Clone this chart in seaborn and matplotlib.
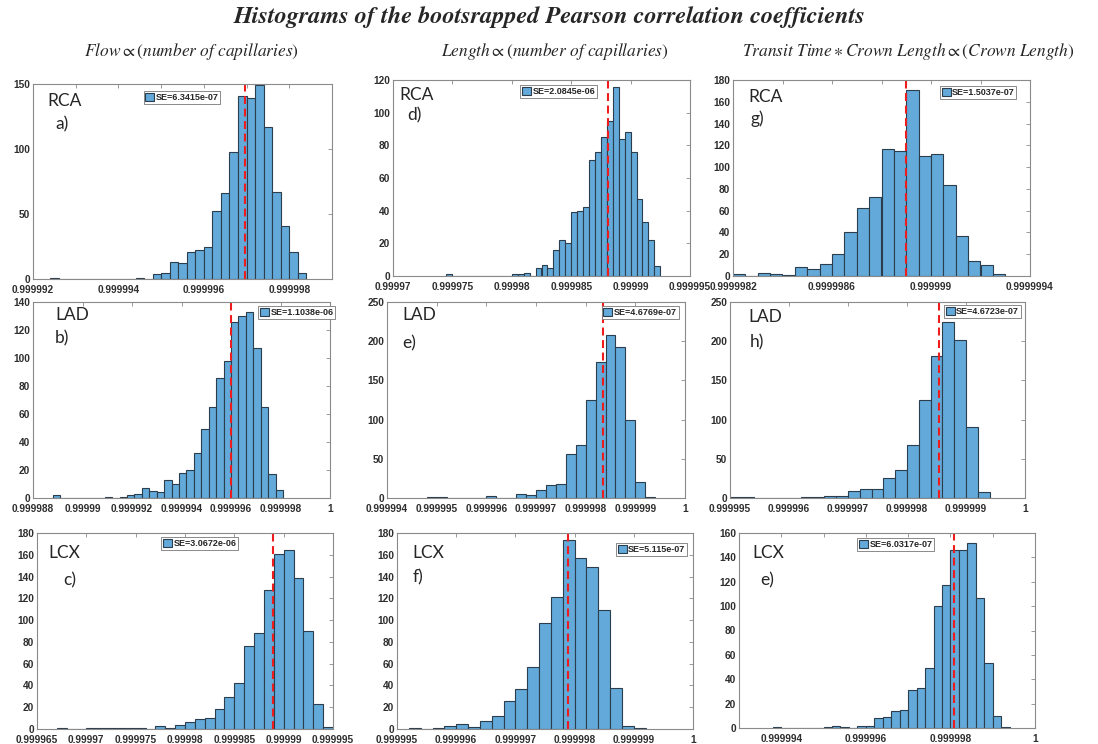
import numpy as np
import pandas as pd
import matplotlib
matplotlib.use('Agg')
import matplotlib.pyplot as plt
import seaborn as sns

sns.set_style('white')
plt.rcParams['mathtext.fontset'] = 'stix'
plt.rcParams['font.family'] = ['Liberation Sans', 'DejaVu Sans']

# ---- data: bin counts, first bin edge, bin width, mean, SE ----
# Flow (column 1)
flow_rca_counts = [1, 0, 0, 0, 0, 0, 0, 0, 0, 0, 1, 0, 4, 5, 13, 12, 21, 22, 25, 52,
                   66, 98, 141, 139, 149, 117, 67, 41, 21, 5]
flow_rca_edge0 = 0.9999924
flow_rca_width = 2e-7
flow_rca_mean = 0.99999697
flow_rca_se = 'SE=6.3415e-07'

flow_lad_counts = [2, 0, 0, 0, 0, 0, 0, 1, 0, 1, 2, 3, 7, 5, 4, 13, 10, 18, 20, 32,
                   49, 65, 86, 98, 126, 130, 133, 107, 65, 17, 6]
flow_lad_edge0 = 0.9999888
flow_lad_width = 3e-7
flow_lad_mean = 0.999996
flow_lad_se = 'SE=1.1038e-06'

flow_lcx_counts = [1, 0, 0, 1, 1, 1, 1, 1, 1, 0, 3, 1, 4, 6, 9, 10, 18, 29, 42, 76,
                   88, 128, 161, 164, 139, 90, 23, 2]
flow_lcx_edge0 = 0.999967
flow_lcx_width = 1e-6
flow_lcx_mean = 0.9999889
flow_lcx_se = 'SE=3.0672e-06'

# Length (column 2)
len_rca_counts = [1, 0, 0, 0, 0, 0, 0, 0, 0, 0, 0, 1, 1, 2, 0, 5, 7, 5, 16, 22, 20,
                  39, 40, 42, 71, 76, 85, 95, 116, 84, 88, 76, 47, 33, 22, 6]
len_rca_edge0 = 0.9999745
len_rca_width = 5e-7
len_rca_mean = 0.99998808
len_rca_se = 'SE=2.0845e-06'

len_lad_counts = [1, 1, 0, 0, 0, 0, 3, 0, 0, 5, 4, 10, 17, 18, 56, 68, 125, 174,
                  208, 193, 100, 20, 1]
len_lad_edge0 = 0.9999948
len_lad_width = 2e-7
len_lad_mean = 0.99999834
len_lad_se = 'SE=4.6769e-07'

len_lcx_counts = [1, 0, 1, 3, 5, 2, 7, 12, 26, 37, 57, 97, 121, 174, 157, 149, 109,
                  38, 3, 1]
len_lcx_edge0 = 0.9999952
len_lcx_width = 2e-7
len_lcx_mean = 0.99999789
len_lcx_se = 'SE=5.115e-07'

# Transit time (column 3)
tt_rca_counts = [2, 0, 3, 2, 1, 8, 6, 11, 20, 40, 62, 73, 117, 115, 171, 110, 112,
                 84, 37, 14, 10, 2]
tt_rca_edge0 = 0.9999982
tt_rca_width = 5e-8
tt_rca_mean = 0.9999989
tt_rca_se = 'SE=1.5037e-07'

tt_lad_counts = [1, 1, 0, 0, 0, 0, 1, 1, 3, 2, 9, 12, 11, 25, 36, 68, 125, 181, 224,
                 201, 90, 8]
tt_lad_edge0 = 0.999995
tt_lad_width = 2e-7
tt_lad_mean = 0.99999854
tt_lad_se = 'SE=4.6723e-07'

tt_lcx_counts = [1, 0, 0, 0, 0, 0, 1, 2, 1, 0, 2, 2, 8, 9, 14, 15, 31, 33, 49, 100,
                 117, 146, 146, 152, 107, 53, 10, 1]
tt_lcx_edge0 = 0.9999938
tt_lcx_width = 2e-7
tt_lcx_mean = 0.99999808
tt_lcx_se = 'SE=6.0317e-07'

# axis ticks
a_xticks = [0.999992, 0.999993, 0.999994, 0.999995, 0.999996, 0.999997, 0.999998, 0.999999]
a_xlabels = ['0.999992', '', '0.999994', '', '0.999996', '', '0.999998', '']
b_xticks = [0.999988, 0.99999, 0.999992, 0.999994, 0.999996, 0.999998, 1.0]
b_xlabels = ['0.999988', '0.99999', '0.999992', '0.999994', '0.999996', '0.999998', '1']
c_xticks = [0.999965, 0.99997, 0.999975, 0.99998, 0.999985, 0.99999, 0.999995]
c_xlabels = ['0.999965', '0.99997', '0.999975', '0.99998', '0.999985', '0.99999', '0.999995']
d_xticks = [0.99997, 0.999975, 0.99998, 0.999985, 0.99999, 0.999995]
d_xlabels = ['0.99997', '0.999975', '0.99998', '0.999985', '0.99999', '0.999995']
e_xticks = [0.999994, 0.999995, 0.999996, 0.999997, 0.999998, 0.999999, 1.0]
e_xlabels = ['0.999994', '0.999995', '0.999996', '0.999997', '0.999998', '0.999999', '1']
f_xticks = [0.999995, 0.999996, 0.999997, 0.999998, 0.999999, 1.0]
f_xlabels = ['0.999995', '0.999996', '0.999997', '0.999998', '0.999999', '1']
g_xticks = [0.9999982, 0.9999984, 0.9999986, 0.9999988, 0.999999, 0.9999992, 0.9999994]
g_xlabels = ['0.9999982', '', '0.9999986', '', '0.999999', '', '0.9999994']
h_xticks = [0.999995, 0.999996, 0.999997, 0.999998, 0.999999, 1.0]
h_xlabels = ['0.999995', '0.999996', '0.999997', '0.999998', '0.999999', '1']
i_xticks = [0.999993, 0.999994, 0.999995, 0.999996, 0.999997, 0.999998, 0.999999, 1.0]
i_xlabels = ['', '0.999994', '', '0.999996', '', '0.999998', '', '1']

a_yticks = [0, 50, 100, 150]
b_yticks = [0, 20, 40, 60, 80, 100, 120, 140]
c_yticks = [0, 20, 40, 60, 80, 100, 120, 140, 160, 180]
d_yticks = [0, 20, 40, 60, 80, 100, 120]
e_yticks = [0, 50, 100, 150, 200, 250]
f_yticks = [0, 20, 40, 60, 80, 100, 120, 140, 160, 180]
g_yticks = [0, 20, 40, 60, 80, 100, 120, 140, 160, 180]
h_yticks = [0, 50, 100, 150, 200, 250]
i_yticks = [0, 20, 40, 60, 80, 100, 120, 140, 160]

W, H = 1098, 744
fig = plt.figure(figsize=(W / 100, H / 100), dpi=100)

bar_color = '#63a9d9'
edge_color = '#2c3d4d'
tick_font = {'family': 'Liberation Sans', 'weight': 'bold', 'size': 7.3,
             'color': '#2e2e2e'}


def draw_panel(box, counts, edge0, width, mean, se, xticks, xlabels, yticks,
               leg_xy, region, letter, region_xy, letter_xy):
    l, t, r, b = box
    ax = fig.add_axes([l / W, 1 - b / H, (r - l) / W, (b - t) / H])
    edges = edge0 + width * np.arange(len(counts) + 1)
    df = pd.DataFrame({'r': edges[:-1] + width / 2, 'n': counts})
    sns.histplot(data=df, x='r', weights='n', bins=edges.tolist(), ax=ax,
                 color=bar_color, alpha=1, edgecolor=edge_color, linewidth=0.8,
                 label=se)
    ax.axvline(mean, color='#ee1c1c', ls=(0, (3.8, 2.2)), lw=1.5)
    ax.set_xlim(xticks[0], xticks[-1])
    ax.set_ylim(yticks[0], yticks[-1])
    ax.set_xticks(xticks, xlabels, **tick_font)
    ax.set_yticks(yticks, [str(v) for v in yticks], **tick_font)
    ax.set_xlabel('')
    ax.set_ylabel('')
    for s in ax.spines.values():
        s.set_color('#8a8a8a')
        s.set_linewidth(0.8)
    ax.tick_params(direction='in', top=True, right=True, length=3, width=0.6,
                   color='#8a8a8a')
    ax.tick_params(axis='x', pad=4)
    ax.tick_params(axis='y', pad=2)
    leg = ax.legend(loc='upper left', bbox_to_anchor=leg_xy, fancybox=False,
                    prop={'size': 6.5, 'weight': 'bold'}, borderpad=0.2,
                    handlelength=1.0, handleheight=1.0, handletextpad=0.15,
                    borderaxespad=0, framealpha=1)
    leg.get_frame().set_edgecolor('#777777')
    leg.get_frame().set_linewidth(0.6)
    fig.text(region_xy[0] / W, 1 - region_xy[1] / H, region, family='Lato',
             fontsize=12.5, va='center', ha='left')
    fig.text(letter_xy[0] / W, 1 - letter_xy[1] / H, letter, family='Lato',
             fontsize=12.5, va='center', ha='left')
    return ax


draw_panel((33, 84, 332, 279), flow_rca_counts, flow_rca_edge0, flow_rca_width,
           flow_rca_mean, flow_rca_se, a_xticks, a_xlabels, a_yticks,
           (0.37, 0.965), 'RCA', 'a)', (47, 101), (55, 124))
draw_panel((33, 302, 330, 498), flow_lad_counts, flow_lad_edge0, flow_lad_width,
           flow_lad_mean, flow_lad_se, b_xticks, b_xlabels, b_yticks,
           (0.758, 0.98), 'LAD', 'b)', (55, 315), (55, 338))
draw_panel((37, 533, 333, 729), flow_lcx_counts, flow_lcx_edge0, flow_lcx_width,
           flow_lcx_mean, flow_lcx_se, c_xticks, c_xlabels, c_yticks,
           (0.42, 0.98), 'LCX', 'c)', (48, 553), (63, 580))

draw_panel((393, 80, 690, 276), len_rca_counts, len_rca_edge0, len_rca_width,
           len_rca_mean, len_rca_se, d_xticks, d_xlabels, d_yticks,
           (0.428, 0.975), 'RCA', 'd)', (399, 95), (407, 115))
draw_panel((387, 302, 685, 498), len_lad_counts, len_lad_edge0, len_lad_width,
           len_lad_mean, len_lad_se, e_xticks, e_xlabels, e_yticks,
           (0.72, 0.98), 'LAD', 'e)', (402, 315), (402, 343))
draw_panel((397, 533, 693, 729), len_lcx_counts, len_lcx_edge0, len_lcx_width,
           len_lcx_mean, len_lcx_se, f_xticks, f_xlabels, f_yticks,
           (0.74, 0.95), 'LCX', 'f)', (412, 553), (413, 577))

draw_panel((733, 80, 1030, 276), tt_rca_counts, tt_rca_edge0, tt_rca_width,
           tt_rca_mean, tt_rca_se, g_xticks, g_xlabels, g_yticks,
           (0.696, 0.97), 'RCA', 'g)', (748, 97), (751, 119))
draw_panel((730, 302, 1025, 498), tt_lad_counts, tt_lad_edge0, tt_lad_width,
           tt_lad_mean, tt_lad_se, h_xticks, h_xlabels, h_yticks,
           (0.725, 0.985), 'LAD', 'h)', (748, 317), (750, 342))
draw_panel((739, 533, 1035, 728), tt_lcx_counts, tt_lcx_edge0, tt_lcx_width,
           tt_lcx_mean, tt_lcx_se, i_xticks, i_xlabels, i_yticks,
           (0.40, 0.975), 'LCX', 'e)', (752, 553), (760, 580))

# titles
fig.text(550 / W, 1 - 17 / H,
         'Histograms of the bootsrapped Pearson correlation coefficients',
         family='STIXGeneral', fontweight='bold', fontstyle='italic',
         fontsize=17.5, ha='center', va='center')
fig.text(191 / W, 1 - 52 / H, r'$Flow \propto (number\ of\ capillaries)$',
         fontsize=12.5, ha='center', va='center')
fig.text(555 / W, 1 - 52 / H, r'$Length \propto (number\ of\ capillaries)$',
         fontsize=12.5, ha='center', va='center')
fig.text(908 / W, 1 - 52 / H,
         r'$Transit\ Time \ast Crown\ Length \propto (Crown\ Length)$',
         fontsize=12.5, ha='center', va='center')

fig.savefig('out.png', dpi=100)
